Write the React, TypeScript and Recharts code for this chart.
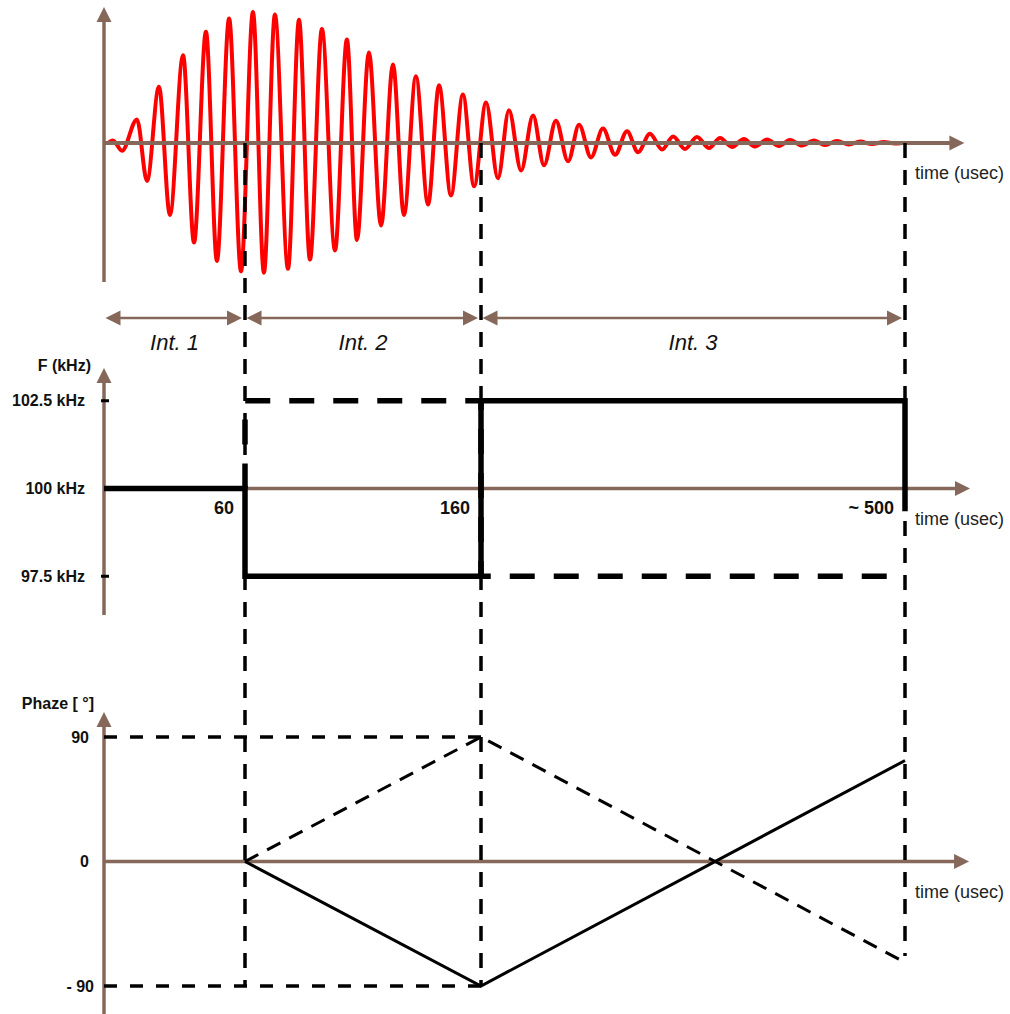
import { ComposedChart, Line, ReferenceLine, XAxis, YAxis } from "recharts";

// interval boundaries, usec
const intervalEdges = [0, 60, 160, 500];
const intervalNames = ["Int. 1", "Int. 2", "Int. 3"];
const timeTicks = [60, 160, 500];

// carrier frequency, kHz (solid = applied, dashed = alternative)
const freqTicks = [97.5, 100, 102.5];
const freqMainT = [0, 60, 60, 160, 160, 500, 500];
const freqMainF = [100, 100, 97.5, 97.5, 102.5, 102.5, 99.35];
const freqAltT = [60, 60, 160, 160, 500];
const freqAltF = [100, 102.5, 102.5, 97.5, 97.5];

// phase, degrees
const phaseTicks = [-90, 0, 90];
const phaseT = [60, 160, 500];
const phaseMain = [0, -90, 73];
const phaseAlt = [0, 90, -73];
const phaseLimits = [90, -90];
const phaseLimitT = [0, 160];

// ring-down trace: time of each extremum (usec) and relative amplitude
const ringT = [
  1.7, 3.8, 7.7, 14.1, 18.4, 23.5, 28.2, 33.8, 38.5, 43.6, 48.3, 53.5, 58.6,
  63.7, 68.4, 73.1, 78.7, 83.4, 88.1, 93.2, 98.8, 103.9, 108.2, 113.3, 118.5,
  123.6, 128.3, 133.4, 138.6, 143.3, 148.4, 153.5, 158.3, 163.4, 168.5, 173.2,
  178.4, 183.5, 188.2, 193.3, 198.5, 203.2, 208.3, 213.4, 218.6, 223.7, 228.4,
  233.5, 238.7, 243.4, 248.5, 253.6, 258.8, 263.5, 268.6, 273.7, 278.4, 283.6,
  288.7, 293.4, 298.5, 303.7, 308.4, 313.5, 318.6, 323.4, 328.5, 333.6, 338.3,
  341.3,
];
const ringA = [
  0, 0.02, -0.06, 0.18, -0.29, 0.43, -0.55, 0.67, -0.76, 0.85, -0.9, 0.95,
  -0.98, 1.0, -0.99, 0.98, -0.96, 0.94, -0.89, 0.87, -0.82, 0.79, -0.74, 0.69,
  -0.63, 0.6, -0.55, 0.51, -0.47, 0.44, -0.4, 0.37, -0.33, 0.31, -0.27, 0.25,
  -0.21, 0.21, -0.17, 0.17, -0.14, 0.14, -0.11, 0.11, -0.09, 0.09, -0.07, 0.07,
  -0.05, 0.05, -0.046, 0.046, -0.038, 0.038, -0.03, 0.03, -0.027, 0.027,
  -0.023, 0.023, -0.019, 0.019, -0.015, 0.015, -0.011, 0.011, -0.008, 0.008,
  -0.004, 0,
];

const ringData = ringT.map((t, i) => ({ t, a: ringA[i] }));
const freqMain = freqMainT.map((t, i) => ({ t, f: freqMainF[i] }));
const freqAlt = freqAltT.map((t, i) => ({ t, f: freqAltF[i] }));
const phaseMainData = phaseT.map((t, i) => ({ t, p: phaseMain[i] }));
const phaseAltData = phaseT.map((t, i) => ({ t, p: phaseAlt[i] }));

// ---- layout ----
const W = 1010;
const H = 1014;
const PLOT_LEFT = 104;
const PLOT_RIGHT = 970;
const FONT = '"Liberation Sans", Arial, Helvetica, sans-serif';
const BROWN = "#86685a";
const INK = "#111";
const HEAD = 15;

// each panel: pixel row of its base value and pixels per unit
type Band = { row: number; base: number; k: number };
const waveBand: Band = { row: 143, base: 0, k: 131 };
const freqBand: Band = { row: 488.5, base: 100, k: 35.1 };
const phaseBand: Band = { row: 861.5, base: 0, k: 1.383 };
const domainOf = (b: Band): [number, number] => [
  b.base - (H - b.row) / b.k,
  b.base + b.row / b.k,
];
const valueAt = (b: Band, row: number) => b.base + (b.row - row) / b.k;

// the ring trace uses its own linear time base across the full width
const RING_SPAN = 370.4;

// time axis is piecewise linear: Int. 3 is drawn compressed
function stretchedTime(stops: number[], px: number[]) {
  let dom: number[] = [stops[0], stops[stops.length - 1]];
  let rng: number[] = [0, px[px.length - 1]];
  const scale: any = (v: number) => {
    let i = 1;
    while (i < stops.length - 1 && v > stops[i]) i++;
    const f = (v - stops[i - 1]) / (stops[i] - stops[i - 1]);
    return rng[0] + px[i - 1] + f * (px[i] - px[i - 1]);
  };
  scale.domain = (d?: number[]) => {
    if (!d) return dom;
    dom = d;
    return scale;
  };
  scale.range = (r?: number[]) => {
    if (!r) return rng;
    rng = r;
    return scale;
  };
  scale.copy = () => stretchedTime(stops, px).domain(dom).range(rng);
  scale.ticks = () => stops;
  scale.tickFormat = () => (v: number) => String(v);
  return scale;
}
const timeScale = stretchedTime(intervalEdges, [0, 141, 377, 801]);

function head(x: number, y: number, ux: number, uy: number, w = 7.5) {
  const bx = x - ux * HEAD;
  const by = y - uy * HEAD;
  return `${x},${y} ${bx - uy * w},${by + ux * w} ${bx + uy * w},${by - ux * w}`;
}

type ArrowProps = { x1: number; y1: number; x2: number; y2: number; width: number; both?: boolean };
function Arrow({ x1, y1, x2, y2, width, both }: ArrowProps) {
  const len = Math.hypot(x2 - x1, y2 - y1) || 1;
  const ux = (x2 - x1) / len;
  const uy = (y2 - y1) / len;
  const s = both ? HEAD - 1 : 0;
  return (
    <g>
      <line
        x1={x1 + ux * s}
        y1={y1 + uy * s}
        x2={x2 - ux * (HEAD - 1)}
        y2={y2 - uy * (HEAD - 1)}
        stroke={BROWN}
        strokeWidth={width}
      />
      <polygon points={head(x2, y2, ux, uy)} fill={BROWN} />
      {both && <polygon points={head(x1, y1, -ux, -uy)} fill={BROWN} />}
    </g>
  );
}

const timeAxisShape = (width: number) => (p: any) => (
  <g>
    <Arrow x1={p.x1} y1={p.y1} x2={p.x2} y2={p.y2} width={width} />
    <text x={915} y={p.y1 + 30} dy="0.35em" fontSize={18} fontFamily={FONT} fill="#222">
      time (usec)
    </text>
  </g>
);

const valueAxisShape = (title?: string, dx = 0, dy = 0) => (p: any) => (
  <g>
    <Arrow x1={p.x1} y1={p.y1} x2={p.x2} y2={p.y2} width={3.5} />
    {title && (
      <text
        x={p.x2 + dx}
        y={p.y2 + dy}
        dy="0.35em"
        textAnchor="end"
        fontSize={16}
        fontWeight="bold"
        fontFamily={FONT}
        fill={INK}
      >
        {title}
      </text>
    )}
  </g>
);

const intervalShape = (name: string) => (p: any) => (
  <g>
    <Arrow x1={p.x1 + 1.5} y1={p.y1} x2={p.x2 - 3} y2={p.y2} width={2.5} both />
    <text
      x={(p.x1 + p.x2) / 2}
      y={p.y1 + 24}
      dy="0.35em"
      textAnchor="middle"
      fontSize={22}
      fontStyle="italic"
      fontFamily={FONT}
      fill={INK}
    >
      {name}
    </text>
  </g>
);

const FreqTick = (p: any) => {
  const v = p.payload.value as number;
  return (
    <g>
      {v !== 100 && <line x1={101} x2={109} y1={p.y} y2={p.y} stroke="#000" strokeWidth={3} />}
      <text x={85} y={p.y} dy="0.35em" textAnchor="end" fontSize={16} fontWeight="bold" fontFamily={FONT} fill={INK}>
        {`${v} kHz`}
      </text>
    </g>
  );
};

const PhaseTick = (p: any) => {
  const v = p.payload.value as number;
  return (
    <text x={v < 0 ? 94 : 89} y={p.y} dy="0.35em" textAnchor="end" fontSize={16} fontWeight="bold" fontFamily={FONT} fill={INK}>
      {v < 0 ? `- ${-v}` : `${v}`}
    </text>
  );
};

const TimeTick = (p: any) => {
  const v = p.payload.value as number;
  return (
    <text x={p.x - 11} y={508} dy="0.35em" textAnchor="end" fontSize={18} fontWeight="bold" fontFamily={FONT} fill={INK}>
      {v === 500 ? "~ 500" : `${v}`}
    </text>
  );
};

// dashed guides drop from the trace baseline to the phase panel
const guideTop = valueAt(phaseBand, waveBand.row);
const guideBottom = [-90, -90, valueAt(phaseBand, 956)];

export default function App() {
  return (
    <div style={{ position: "absolute", left: 0, top: 0, width: W, height: H, background: "#fff" }}>
      <ComposedChart
        width={W}
        height={H}
        margin={{ top: 0, right: W - PLOT_RIGHT, bottom: 0, left: PLOT_LEFT }}
      >
        {/* mirrored axes take no room, so the plot keeps the margins above */}
        <XAxis
          xAxisId="time"
          type="number"
          dataKey="t"
          scale={timeScale}
          domain={[0, 500]}
          ticks={timeTicks}
          interval={0}
          tick={TimeTick}
          axisLine={false}
          tickLine={false}
          mirror
        />
        <XAxis xAxisId="ring" type="number" dataKey="t" domain={[0, RING_SPAN]} allowDataOverflow hide />
        <YAxis yAxisId="wave" type="number" domain={domainOf(waveBand)} allowDataOverflow hide />
        <YAxis
          yAxisId="freq"
          type="number"
          domain={domainOf(freqBand)}
          allowDataOverflow
          ticks={freqTicks}
          interval={0}
          tick={FreqTick}
          axisLine={false}
          tickLine={false}
          mirror
        />
        <YAxis
          yAxisId="phase"
          type="number"
          domain={domainOf(phaseBand)}
          allowDataOverflow
          ticks={phaseTicks}
          interval={0}
          tick={PhaseTick}
          axisLine={false}
          tickLine={false}
          mirror
        />

        {/* ring-down trace */}
        <Line
          xAxisId="ring"
          yAxisId="wave"
          data={ringData}
          dataKey="a"
          type="monotone"
          stroke="#ff0000"
          strokeWidth={4}
          dot={false}
          activeDot={false}
          isAnimationActive={false}
          zIndex={100}
        />

        {/* brown axes */}
        <ReferenceLine
          xAxisId="ring"
          yAxisId="wave"
          segment={[{ x: 0, y: 0 }, { x: 368, y: 0 }]}
          ifOverflow="visible"
          shape={timeAxisShape(4)}
          zIndex={200}
        />
        <ReferenceLine
          xAxisId="time"
          yAxisId="wave"
          segment={[{ x: 0, y: valueAt(waveBand, 282) }, { x: 0, y: valueAt(waveBand, 7) }]}
          ifOverflow="visible"
          shape={valueAxisShape()}
          zIndex={200}
        />
        <ReferenceLine
          xAxisId="ring"
          yAxisId="freq"
          segment={[{ x: 0, y: 100 }, { x: RING_SPAN, y: 100 }]}
          ifOverflow="visible"
          shape={timeAxisShape(3.5)}
          zIndex={200}
        />
        <ReferenceLine
          xAxisId="time"
          yAxisId="freq"
          segment={[{ x: 0, y: valueAt(freqBand, 615) }, { x: 0, y: valueAt(freqBand, 368) }]}
          ifOverflow="visible"
          shape={valueAxisShape("F (kHz)", -13, -3)}
          zIndex={200}
        />
        <ReferenceLine
          xAxisId="ring"
          yAxisId="phase"
          segment={[{ x: 0, y: 0 }, { x: 370, y: 0 }]}
          ifOverflow="visible"
          shape={timeAxisShape(3.5)}
          zIndex={200}
        />
        <ReferenceLine
          xAxisId="time"
          yAxisId="phase"
          segment={[{ x: 0, y: valueAt(phaseBand, 1020) }, { x: 0, y: valueAt(phaseBand, 712) }]}
          ifOverflow="visible"
          shape={valueAxisShape("Phaze [ °]", -10, -9)}
          zIndex={200}
        />

        {/* interval arrows */}
        {intervalNames.map((name, i) => (
          <ReferenceLine
            key={name}
            xAxisId="time"
            yAxisId="wave"
            segment={[
              { x: intervalEdges[i], y: valueAt(waveBand, 318) },
              { x: intervalEdges[i + 1], y: valueAt(waveBand, 318) },
            ]}
            ifOverflow="visible"
            shape={intervalShape(name)}
            zIndex={200}
          />
        ))}

        {/* ±90° limits */}
        {phaseLimits.map((v) => (
          <ReferenceLine
            key={v}
            xAxisId="time"
            yAxisId="phase"
            segment={[{ x: phaseLimitT[0], y: v }, { x: phaseLimitT[1], y: v }]}
            ifOverflow="visible"
            stroke="#000"
            strokeWidth={3.5}
            strokeDasharray="13 13"
            zIndex={300}
          />
        ))}

        {/* interval boundary guides */}
        {timeTicks.map((t, i) => (
          <ReferenceLine
            key={t}
            xAxisId="time"
            yAxisId="phase"
            segment={[{ x: t, y: guideTop }, { x: t, y: guideBottom[i] }]}
            ifOverflow="visible"
            stroke="#000"
            strokeWidth={3.5}
            strokeDasharray="15 12"
            zIndex={300}
          />
        ))}

        {/* frequency steps */}
        <Line
          xAxisId="time"
          yAxisId="freq"
          data={freqAlt}
          dataKey="f"
          type="linear"
          stroke="#000"
          strokeWidth={5.5}
          strokeDasharray="25 19"
          dot={false}
          activeDot={false}
          isAnimationActive={false}
          zIndex={400}
        />
        <Line
          xAxisId="time"
          yAxisId="freq"
          data={freqMain}
          dataKey="f"
          type="linear"
          stroke="#000"
          strokeWidth={5.5}
          dot={false}
          activeDot={false}
          isAnimationActive={false}
          zIndex={400}
        />

        {/* phase ramps */}
        <Line
          xAxisId="time"
          yAxisId="phase"
          data={phaseAltData}
          dataKey="p"
          type="linear"
          stroke="#000"
          strokeWidth={3}
          strokeDasharray="15 10"
          dot={false}
          activeDot={false}
          isAnimationActive={false}
          zIndex={400}
        />
        <Line
          xAxisId="time"
          yAxisId="phase"
          data={phaseMainData}
          dataKey="p"
          type="linear"
          stroke="#000"
          strokeWidth={3}
          dot={false}
          activeDot={false}
          isAnimationActive={false}
          zIndex={400}
        />
      </ComposedChart>
    </div>
  );
}
